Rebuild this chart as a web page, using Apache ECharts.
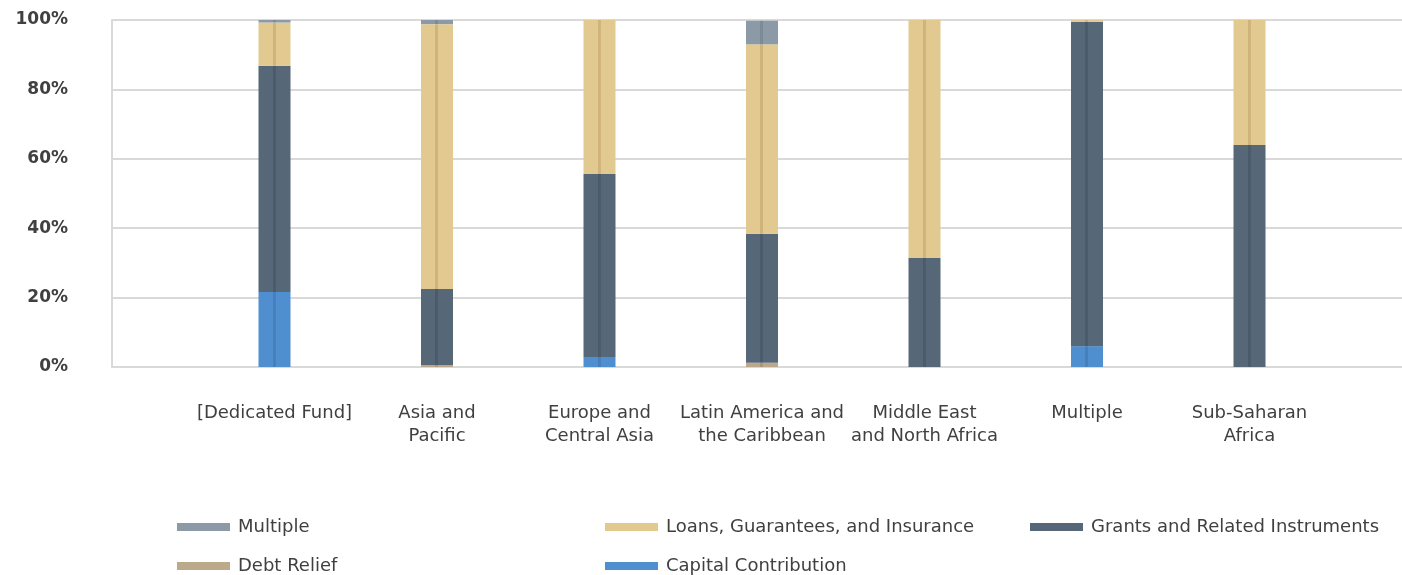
<html>
  <head>
    <meta charset="utf-8">
    <title>Share by instrument</title>
    <script src="https://cdn.jsdelivr.net/npm/echarts@6.0.0/dist/echarts.min.js"></script>
    <style>
      html, body { margin: 0; padding: 0; background: #fff; }
      #main { width: 1402px; height: 575px; }
    </style>
  </head>
  <body>
    <div id="main"></div>
    <script type="text/javascript">
      // blank slots at both ends keep the empty space the original has
      var categories = ['', '[Dedicated Fund]', 'Asia and\nPacific', 'Europe and\nCentral Asia',
        'Latin America and\nthe Caribbean', 'Middle East\nand North Africa', 'Multiple', 'Sub-Saharan\nAfrica', ''];
      var yTicks = [0, 20, 40, 60, 80, 100];

      // shares in %, bottom to top
      var capital  = ['-', 21.6, 0,    2.9,  0,    0,    6.0,  0, '-'];
      var debt     = ['-', 0,    0.5,  0,    1.2,  0,    0,    0, '-'];
      var grants   = ['-', 65.2, 22.0, 52.7, 37.2, 31.4, 93.5, 64, '-'];
      var loans    = ['-', 12.5, 76.3, 44.4, 54.6, 68.6, 0.5,  36, '-'];
      var multiple = ['-', 0.7,  1.2,  0,    6.8,  0,    0,    0, '-'];

      var FONT = 'DejaVu Sans';

      function stripe(c, d) {
        return new echarts.graphic.LinearGradient(0, 0, 1, 0, [
          { offset: 0, color: c }, { offset: 0.44, color: c },
          { offset: 0.45, color: d }, { offset: 0.53, color: d },
          { offset: 0.54, color: c }, { offset: 1, color: c }
        ]);
      }

      var colors = {
        'Multiple': ['#8b9aa6', '#7d8b97'],
        'Loans, Guarantees, and Insurance': ['#e2c98f', '#cfb37a'],
        'Grants and Related Instruments': ['#566778', '#4b5b6b'],
        'Debt Relief': ['#bba98a', '#a8977a'],
        'Capital Contribution': ['#4f8fd0', '#4580bd']
      };

      function bar(name, data) {
        return {
          name: name,
          type: 'bar',
          stack: 'total',
          barWidth: 32,
          data: data,
          itemStyle: { color: stripe(colors[name][0], colors[name][1]) }
        };
      }

      function legendAt(name, left, top) {
        return {
          data: [{ name: name, itemStyle: { color: colors[name][0] } }],
          left: left, top: top, padding: 0,
          icon: 'rect', itemWidth: 53, itemHeight: 8, itemGap: 8,
          textStyle: { fontFamily: FONT, fontSize: 18, color: '#404040', padding: [0, 0, 0, 3] }
        };
      }

      var chart = echarts.init(document.getElementById('main'));
      var option = {
        animation: false,
        grid: { left: 112, top: 20, width: 1300, height: 347, outerBoundsMode: 'none' },
        legend: [
          legendAt('Multiple', 177, 518),
          legendAt('Loans, Guarantees, and Insurance', 605, 518),
          legendAt('Grants and Related Instruments', 1030, 518),
          legendAt('Debt Relief', 177, 557),
          legendAt('Capital Contribution', 605, 557)
        ],
        xAxis: {
          type: 'category',
          data: categories,
          boundaryGap: false,
          axisLine: { lineStyle: { color: '#d9d9d9', width: 2 } },
          axisTick: { show: false },
          axisLabel: {
            interval: 0, margin: 35, lineHeight: 23,
            fontFamily: FONT, fontSize: 18, color: '#404040'
          }
        },
        yAxis: {
          type: 'value',
          min: yTicks[0], max: yTicks[yTicks.length - 1], interval: 20,
          axisLine: { show: true, lineStyle: { color: '#d9d9d9', width: 2 } },
          axisTick: { show: false },
          splitLine: { lineStyle: { color: '#d9d9d9', width: 2 } },
          axisLabel: {
            margin: 44, fontFamily: FONT, fontWeight: 'bold', fontSize: 17, color: '#404040',
            formatter: '{value}%'
          }
        },
        series: [
          bar('Capital Contribution', capital),
          bar('Debt Relief', debt),
          bar('Grants and Related Instruments', grants),
          bar('Loans, Guarantees, and Insurance', loans),
          bar('Multiple', multiple)
        ]
      };
      chart.setOption(option);
    </script>
  </body>
</html>
